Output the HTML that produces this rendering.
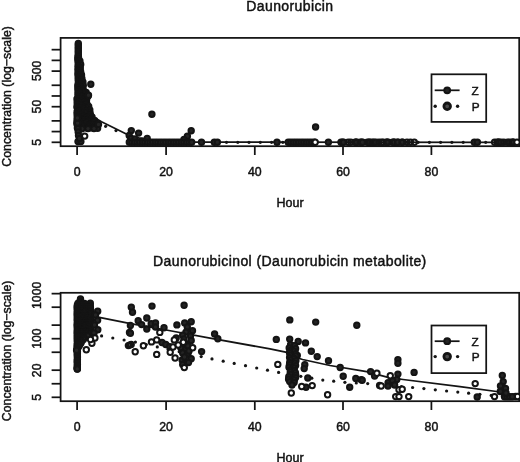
<!DOCTYPE html>
<html><head><meta charset="utf-8"><title>Daunorubicin concentration</title>
<style>
html,body{margin:0;padding:0;background:#fff}
svg{display:block;filter:blur(0.4px);font-family:"Liberation Sans",sans-serif;fill:#111}
text{stroke:#111;stroke-width:0.45px}
.ax{stroke:#141414;stroke-width:1.75;fill:none}
.ln{stroke:#141414;stroke-width:1.75;fill:none}
.d circle, circle{fill:#242424;stroke:#141414;stroke-width:2.0}
circle.o{fill:#fff}
circle.n{fill:none}
circle.s{fill:#141414;stroke:none}
.t12{font-size:12.3px}
.hour{font-size:12.5px}
.lg{font-size:11.8px}
.title{font-size:14px;letter-spacing:0.4px}
.yt{font-size:12.3px}
</style></head><body>
<svg width="520" height="462" viewBox="0 0 520 462">
<rect width="520" height="462" fill="#fff"/>
<rect class="ax" x="60.6" y="37.9" width="458.6" height="108.3"/>
<line class="ax" x1="51.6" x2="60.6" y1="142.30" y2="142.30"/>
<line class="ax" x1="51.6" x2="60.6" y1="131.58" y2="131.58"/>
<line class="ax" x1="51.6" x2="60.6" y1="120.87" y2="120.87"/>
<line class="ax" x1="51.6" x2="60.6" y1="106.70" y2="106.70"/>
<line class="ax" x1="51.6" x2="60.6" y1="95.98" y2="95.98"/>
<line class="ax" x1="51.6" x2="60.6" y1="85.27" y2="85.27"/>
<line class="ax" x1="51.6" x2="60.6" y1="71.10" y2="71.10"/>
<line class="ax" x1="51.6" x2="60.6" y1="60.38" y2="60.38"/>
<line class="ax" x1="51.6" x2="60.6" y1="49.67" y2="49.67"/>
<line class="ax" x1="77.1" x2="77.1" y1="146.2" y2="155.0"/>
<text class="t12" text-anchor="middle" x="77.1" y="175.5">0</text>
<line class="ax" x1="166.1" x2="166.1" y1="146.2" y2="155.0"/>
<text class="t12" text-anchor="middle" x="166.1" y="175.5">20</text>
<line class="ax" x1="254.8" x2="254.8" y1="146.2" y2="155.0"/>
<text class="t12" text-anchor="middle" x="254.8" y="175.5">40</text>
<line class="ax" x1="343.0" x2="343.0" y1="146.2" y2="155.0"/>
<text class="t12" text-anchor="middle" x="343.0" y="175.5">60</text>
<line class="ax" x1="431.4" x2="431.4" y1="146.2" y2="155.0"/>
<text class="t12" text-anchor="middle" x="431.4" y="175.5">80</text>
<text class="t12" text-anchor="middle" transform="translate(41.1,142.3) rotate(-90)">5</text>
<text class="t12" text-anchor="middle" transform="translate(41.1,106.6) rotate(-90)">50</text>
<text class="t12" text-anchor="middle" transform="translate(41.1,70.8) rotate(-90)">500</text>
<text class="hour" text-anchor="middle" x="290" y="207.0">Hour</text>
<text class="title" text-anchor="middle" x="289.9" y="10.7">Daunorubicin</text>
<text class="yt" text-anchor="middle" transform="translate(10.7,96.4) rotate(-90)">Concentration (log−scale)</text>
<g class="d">
<polyline class="ln" points="95,118 101.5,121.7 125.8,133.8 131,136.2 150,140.5 184,142.2 517,142.3"/>
<circle class="s" cx="105.6" cy="126.3" r="1.6"/>
<circle class="s" cx="116.0" cy="130.6" r="1.6"/>
<circle class="s" cx="226.5" cy="142.3" r="1.6"/>
<circle class="s" cx="237.8" cy="142.3" r="1.6"/>
<circle class="s" cx="249.0" cy="142.3" r="1.6"/>
<circle class="s" cx="260.3" cy="142.3" r="1.6"/>
<circle class="s" cx="271.6" cy="142.3" r="1.6"/>
<circle class="s" cx="282.8" cy="142.3" r="1.6"/>
<circle class="s" cx="294.1" cy="142.3" r="1.6"/>
<circle class="s" cx="305.4" cy="142.3" r="1.6"/>
<circle class="s" cx="316.7" cy="142.3" r="1.6"/>
<circle class="s" cx="327.9" cy="142.3" r="1.6"/>
<circle class="s" cx="339.2" cy="142.3" r="1.6"/>
<circle class="s" cx="350.5" cy="142.3" r="1.6"/>
<circle class="s" cx="361.7" cy="142.3" r="1.6"/>
<circle class="s" cx="373.0" cy="142.3" r="1.6"/>
<circle class="s" cx="384.3" cy="142.3" r="1.6"/>
<circle class="s" cx="395.5" cy="142.3" r="1.6"/>
<circle class="s" cx="406.8" cy="142.3" r="1.6"/>
<circle class="s" cx="418.1" cy="142.3" r="1.6"/>
<circle class="s" cx="429.4" cy="142.3" r="1.6"/>
<circle class="s" cx="440.6" cy="142.3" r="1.6"/>
<circle class="s" cx="451.9" cy="142.3" r="1.6"/>
<circle class="s" cx="463.2" cy="142.3" r="1.6"/>
<circle class="s" cx="474.4" cy="142.3" r="1.6"/>
<circle class="s" cx="485.7" cy="142.3" r="1.6"/>
<circle class="s" cx="497.0" cy="142.3" r="1.6"/>
<circle class="s" cx="508.2" cy="142.3" r="1.6"/>
<circle cx="78.3" cy="43.4" r="2.7"/>
<circle cx="78.3" cy="45.1" r="2.7"/>
<circle cx="78.3" cy="46.9" r="2.7"/>
<circle cx="78.3" cy="48.6" r="2.7"/>
<circle cx="78.3" cy="50.4" r="2.7"/>
<circle cx="78.3" cy="52.1" r="2.7"/>
<circle cx="78.3" cy="53.9" r="2.7"/>
<circle cx="78.3" cy="55.6" r="2.7"/>
<circle cx="77.9" cy="57.3" r="2.7"/>
<circle cx="78.5" cy="57.4" r="2.7"/>
<circle cx="78.0" cy="59.1" r="2.7"/>
<circle cx="78.4" cy="59.1" r="2.7"/>
<circle cx="78.0" cy="60.6" r="2.7"/>
<circle cx="79.9" cy="60.9" r="2.7"/>
<circle cx="78.5" cy="62.7" r="2.7"/>
<circle cx="78.3" cy="62.6" r="2.7"/>
<circle cx="78.5" cy="63.9" r="2.7"/>
<circle cx="80.7" cy="64.4" r="2.7"/>
<circle cx="78.1" cy="65.7" r="2.7"/>
<circle cx="78.5" cy="66.2" r="2.7"/>
<circle cx="78.1" cy="68.3" r="2.7"/>
<circle cx="80.3" cy="67.9" r="2.7"/>
<circle cx="78.2" cy="69.8" r="2.7"/>
<circle cx="79.3" cy="69.7" r="2.7"/>
<circle cx="78.2" cy="70.9" r="2.7"/>
<circle cx="80.6" cy="71.4" r="2.7"/>
<circle cx="78.0" cy="73.4" r="2.7"/>
<circle cx="80.6" cy="72.9" r="2.7"/>
<circle cx="80.1" cy="73.2" r="2.7"/>
<circle cx="78.2" cy="74.7" r="2.7"/>
<circle cx="80.8" cy="75.1" r="2.7"/>
<circle cx="81.5" cy="74.9" r="2.7"/>
<circle cx="78.2" cy="76.7" r="2.7"/>
<circle cx="80.8" cy="76.9" r="2.7"/>
<circle cx="80.3" cy="76.7" r="2.7"/>
<circle cx="78.5" cy="77.9" r="2.7"/>
<circle cx="80.6" cy="78.7" r="2.7"/>
<circle cx="81.9" cy="78.4" r="2.7"/>
<circle cx="78.2" cy="79.6" r="2.7"/>
<circle cx="80.7" cy="80.5" r="2.7"/>
<circle cx="81.3" cy="80.2" r="2.7"/>
<circle cx="78.4" cy="81.7" r="2.7"/>
<circle cx="80.7" cy="82.0" r="2.7"/>
<circle cx="82.9" cy="81.9" r="2.7"/>
<circle cx="78.2" cy="84.1" r="2.7"/>
<circle cx="80.9" cy="83.6" r="2.7"/>
<circle cx="81.6" cy="83.7" r="2.7"/>
<circle cx="77.9" cy="85.6" r="2.7"/>
<circle cx="80.7" cy="86.0" r="2.7"/>
<circle cx="83.3" cy="85.4" r="2.7"/>
<circle cx="78.1" cy="87.0" r="2.7"/>
<circle cx="80.7" cy="86.6" r="2.7"/>
<circle cx="81.4" cy="87.2" r="2.7"/>
<circle cx="78.0" cy="88.4" r="2.7"/>
<circle cx="80.3" cy="89.2" r="2.7"/>
<circle cx="82.8" cy="88.9" r="2.7"/>
<circle cx="78.0" cy="90.5" r="2.7"/>
<circle cx="80.8" cy="90.1" r="2.7"/>
<circle cx="83.0" cy="90.7" r="2.7"/>
<circle cx="83.4" cy="90.7" r="2.7"/>
<circle cx="78.4" cy="92.8" r="2.7"/>
<circle cx="80.5" cy="92.3" r="2.7"/>
<circle cx="82.9" cy="92.9" r="2.7"/>
<circle cx="86.2" cy="92.4" r="2.7"/>
<circle cx="78.0" cy="93.8" r="2.7"/>
<circle cx="80.4" cy="93.8" r="2.7"/>
<circle cx="83.0" cy="94.3" r="2.7"/>
<circle cx="85.3" cy="93.6" r="2.7"/>
<circle cx="85.4" cy="94.2" r="2.7"/>
<circle cx="78.1" cy="96.0" r="2.7"/>
<circle cx="80.9" cy="96.1" r="2.7"/>
<circle cx="83.0" cy="96.0" r="2.7"/>
<circle cx="85.5" cy="95.4" r="2.7"/>
<circle cx="88.1" cy="95.9" r="2.7"/>
<circle cx="78.4" cy="98.1" r="2.7"/>
<circle cx="80.8" cy="97.5" r="2.7"/>
<circle cx="82.9" cy="97.2" r="2.7"/>
<circle cx="85.5" cy="97.1" r="2.7"/>
<circle cx="85.3" cy="97.7" r="2.7"/>
<circle cx="77.0" cy="99.0" r="2.7"/>
<circle cx="79.5" cy="98.9" r="2.7"/>
<circle cx="81.7" cy="99.0" r="2.7"/>
<circle cx="84.2" cy="99.2" r="2.7"/>
<circle cx="86.6" cy="99.4" r="2.7"/>
<circle cx="77.4" cy="101.3" r="2.7"/>
<circle cx="79.4" cy="100.9" r="2.7"/>
<circle cx="81.9" cy="101.0" r="2.7"/>
<circle cx="84.2" cy="101.6" r="2.7"/>
<circle cx="86.1" cy="101.2" r="2.7"/>
<circle cx="77.2" cy="102.9" r="2.7"/>
<circle cx="79.4" cy="102.4" r="2.7"/>
<circle cx="81.9" cy="102.6" r="2.7"/>
<circle cx="84.6" cy="102.5" r="2.7"/>
<circle cx="86.6" cy="102.9" r="2.7"/>
<circle cx="77.5" cy="104.7" r="2.7"/>
<circle cx="79.4" cy="104.7" r="2.7"/>
<circle cx="81.7" cy="104.7" r="2.7"/>
<circle cx="84.7" cy="105.1" r="2.7"/>
<circle cx="86.9" cy="104.4" r="2.7"/>
<circle cx="86.1" cy="104.7" r="2.7"/>
<circle cx="77.0" cy="106.7" r="2.7"/>
<circle cx="79.6" cy="106.7" r="2.7"/>
<circle cx="81.9" cy="106.1" r="2.7"/>
<circle cx="84.6" cy="107.0" r="2.7"/>
<circle cx="87.0" cy="106.8" r="2.7"/>
<circle cx="88.7" cy="106.4" r="2.7"/>
<circle cx="77.3" cy="107.8" r="2.7"/>
<circle cx="79.6" cy="108.0" r="2.7"/>
<circle cx="81.7" cy="107.6" r="2.7"/>
<circle cx="84.3" cy="107.9" r="2.7"/>
<circle cx="86.9" cy="108.7" r="2.7"/>
<circle cx="87.3" cy="108.2" r="2.7"/>
<circle cx="77.5" cy="110.5" r="2.7"/>
<circle cx="79.9" cy="109.7" r="2.7"/>
<circle cx="81.8" cy="109.6" r="2.7"/>
<circle cx="84.2" cy="109.5" r="2.7"/>
<circle cx="86.9" cy="110.4" r="2.7"/>
<circle cx="89.8" cy="109.9" r="2.7"/>
<circle cx="77.2" cy="111.8" r="2.7"/>
<circle cx="79.8" cy="111.2" r="2.7"/>
<circle cx="82.1" cy="112.1" r="2.7"/>
<circle cx="84.6" cy="112.0" r="2.7"/>
<circle cx="86.8" cy="111.3" r="2.7"/>
<circle cx="88.9" cy="111.7" r="2.7"/>
<circle cx="77.1" cy="113.8" r="2.7"/>
<circle cx="79.9" cy="113.3" r="2.7"/>
<circle cx="81.9" cy="113.9" r="2.7"/>
<circle cx="84.5" cy="113.0" r="2.7"/>
<circle cx="86.6" cy="113.0" r="2.7"/>
<circle cx="89.4" cy="113.8" r="2.7"/>
<circle cx="90.2" cy="113.4" r="2.7"/>
<circle cx="77.4" cy="115.7" r="2.7"/>
<circle cx="79.7" cy="115.0" r="2.7"/>
<circle cx="82.0" cy="114.7" r="2.7"/>
<circle cx="84.1" cy="115.7" r="2.7"/>
<circle cx="86.9" cy="115.2" r="2.7"/>
<circle cx="89.5" cy="115.1" r="2.7"/>
<circle cx="90.2" cy="115.2" r="2.7"/>
<circle cx="77.4" cy="116.6" r="2.7"/>
<circle cx="79.5" cy="116.7" r="2.7"/>
<circle cx="81.8" cy="117.0" r="2.7"/>
<circle cx="84.3" cy="116.8" r="2.7"/>
<circle cx="86.6" cy="117.4" r="2.7"/>
<circle cx="89.1" cy="116.8" r="2.7"/>
<circle cx="92.0" cy="116.9" r="2.7"/>
<circle cx="77.4" cy="118.6" r="2.7"/>
<circle cx="79.9" cy="118.7" r="2.7"/>
<circle cx="82.0" cy="118.7" r="2.7"/>
<circle cx="84.1" cy="118.6" r="2.7"/>
<circle cx="86.6" cy="118.1" r="2.7"/>
<circle cx="89.4" cy="118.3" r="2.7"/>
<circle cx="91.6" cy="118.9" r="2.7"/>
<circle cx="91.7" cy="118.7" r="2.7"/>
<circle cx="77.1" cy="120.4" r="2.7"/>
<circle cx="79.6" cy="120.7" r="2.7"/>
<circle cx="81.8" cy="120.5" r="2.7"/>
<circle cx="84.2" cy="120.1" r="2.7"/>
<circle cx="87.0" cy="120.4" r="2.7"/>
<circle cx="89.2" cy="120.7" r="2.7"/>
<circle cx="91.8" cy="120.3" r="2.7"/>
<circle cx="94.6" cy="120.4" r="2.7"/>
<circle cx="77.2" cy="122.2" r="2.7"/>
<circle cx="79.7" cy="122.1" r="2.7"/>
<circle cx="82.0" cy="122.1" r="2.7"/>
<circle cx="84.7" cy="122.4" r="2.7"/>
<circle cx="87.0" cy="122.7" r="2.7"/>
<circle cx="89.1" cy="122.2" r="2.7"/>
<circle cx="91.9" cy="122.6" r="2.7"/>
<circle cx="93.8" cy="121.7" r="2.7"/>
<circle cx="94.1" cy="122.2" r="2.7"/>
<circle cx="76.9" cy="123.6" r="2.7"/>
<circle cx="79.3" cy="124.1" r="2.7"/>
<circle cx="82.2" cy="124.4" r="2.7"/>
<circle cx="84.2" cy="124.2" r="2.7"/>
<circle cx="86.9" cy="123.5" r="2.7"/>
<circle cx="89.4" cy="124.5" r="2.7"/>
<circle cx="91.4" cy="124.4" r="2.7"/>
<circle cx="93.9" cy="123.9" r="2.7"/>
<circle cx="97.0" cy="123.9" r="2.7"/>
<circle cx="77.4" cy="125.2" r="2.7"/>
<circle cx="79.6" cy="125.7" r="2.7"/>
<circle cx="81.9" cy="125.3" r="2.7"/>
<circle cx="84.3" cy="125.9" r="2.7"/>
<circle cx="86.5" cy="125.7" r="2.7"/>
<circle cx="89.2" cy="125.1" r="2.7"/>
<circle cx="91.5" cy="125.8" r="2.7"/>
<circle cx="94.0" cy="125.1" r="2.7"/>
<circle cx="96.3" cy="125.7" r="2.7"/>
<circle cx="77.4" cy="128.0" r="2.7"/>
<circle cx="79.4" cy="127.1" r="2.7"/>
<circle cx="81.7" cy="127.7" r="2.7"/>
<circle cx="84.3" cy="127.0" r="2.7"/>
<circle cx="86.8" cy="127.9" r="2.7"/>
<circle cx="89.4" cy="127.1" r="2.7"/>
<circle cx="91.4" cy="127.9" r="2.7"/>
<circle cx="94.0" cy="127.6" r="2.7"/>
<circle cx="96.1" cy="127.4" r="2.7"/>
<circle cx="90.8" cy="84.3" r="2.7"/>
<circle cx="88.5" cy="95.2" r="2.7"/>
<circle cx="97.6" cy="128.3" r="2.7"/>
<circle cx="94.0" cy="128.6" r="2.7"/>
<circle cx="88.0" cy="128.6" r="2.7"/>
<circle cx="82.0" cy="128.8" r="2.7"/>
<circle cx="78.0" cy="128.6" r="2.7"/>
<circle cx="77.6" cy="123.0" r="2.7"/>
<circle cx="77.4" cy="118.0" r="2.7"/>
<circle cx="98.5" cy="124.5" r="2.7"/>
<circle cx="78.2" cy="132.0" r="2.7"/>
<circle cx="78.5" cy="135.5" r="2.7"/>
<circle cx="78.0" cy="141.6" r="2.7"/>
<circle cx="80.9" cy="141.6" r="2.7"/>
<circle cx="79.4" cy="138.5" r="2.7"/>
<circle class="o" cx="84.7" cy="136.1" r="2.7"/>
<circle cx="151.9" cy="114.3" r="2.7"/>
<circle cx="131.3" cy="130.6" r="2.7"/>
<circle cx="138.6" cy="133.1" r="2.7"/>
<circle cx="129.2" cy="135.4" r="2.7"/>
<circle cx="131.0" cy="138.5" r="2.7"/>
<circle cx="135.0" cy="139.0" r="2.7"/>
<circle cx="147.2" cy="138.4" r="2.7"/>
<circle cx="142.0" cy="141.0" r="2.7"/>
<circle cx="191.2" cy="130.8" r="2.7"/>
<circle cx="187.4" cy="136.3" r="2.7"/>
<circle cx="184.0" cy="139.5" r="2.7"/>
<circle cx="315.6" cy="127.0" r="2.7"/>
<circle cx="129.3" cy="142.2" r="2.7"/>
<circle cx="131.9" cy="142.2" r="2.7"/>
<circle cx="134.5" cy="142.2" r="2.7"/>
<circle cx="137.1" cy="142.2" r="2.7"/>
<circle cx="139.7" cy="142.2" r="2.7"/>
<circle cx="142.3" cy="142.2" r="2.7"/>
<circle cx="144.9" cy="142.2" r="2.7"/>
<circle cx="147.5" cy="142.2" r="2.7"/>
<circle cx="150.1" cy="142.2" r="2.7"/>
<circle cx="152.7" cy="142.2" r="2.7"/>
<circle cx="155.3" cy="142.2" r="2.7"/>
<circle cx="157.9" cy="142.2" r="2.7"/>
<circle cx="160.5" cy="142.2" r="2.7"/>
<circle cx="163.1" cy="142.2" r="2.7"/>
<circle cx="165.7" cy="142.2" r="2.7"/>
<circle cx="168.3" cy="142.2" r="2.7"/>
<circle cx="170.9" cy="142.2" r="2.7"/>
<circle cx="173.5" cy="142.2" r="2.7"/>
<circle cx="176.1" cy="142.2" r="2.7"/>
<circle cx="178.7" cy="142.2" r="2.7"/>
<circle cx="181.3" cy="142.2" r="2.7"/>
<circle cx="183.9" cy="142.2" r="2.7"/>
<circle cx="186.5" cy="142.2" r="2.7"/>
<circle cx="189.1" cy="142.2" r="2.7"/>
<circle cx="191.7" cy="142.2" r="2.7"/>
<circle cx="201.5" cy="142.2" r="2.7"/>
<circle cx="214.3" cy="142.2" r="2.7"/>
<circle cx="217.4" cy="142.2" r="2.7"/>
<circle cx="277.0" cy="142.2" r="2.7"/>
<circle cx="288.2" cy="142.2" r="2.7"/>
<circle cx="290.8" cy="142.2" r="2.7"/>
<circle cx="293.4" cy="142.2" r="2.7"/>
<circle cx="296.0" cy="142.2" r="2.7"/>
<circle cx="298.6" cy="142.2" r="2.7"/>
<circle cx="301.2" cy="142.2" r="2.7"/>
<circle cx="303.8" cy="142.2" r="2.7"/>
<circle cx="306.4" cy="142.2" r="2.7"/>
<circle cx="309.0" cy="142.2" r="2.7"/>
<circle cx="311.6" cy="142.2" r="2.7"/>
<circle cx="314.2" cy="142.2" r="2.7"/>
<circle class="o" cx="315.2" cy="142.2" r="2.7"/>
<circle cx="328.4" cy="142.2" r="2.7"/>
<circle class="n" cx="341.0" cy="142.2" r="2.7"/>
<circle class="n" cx="342.6" cy="142.2" r="2.7"/>
<circle cx="343.5" cy="142.2" r="2.7"/>
<circle class="n" cx="348.2" cy="142.2" r="2.7"/>
<circle class="n" cx="350.8" cy="142.2" r="2.7"/>
<circle class="n" cx="355.2" cy="142.2" r="2.7"/>
<circle cx="356.0" cy="142.2" r="2.7"/>
<circle class="n" cx="356.8" cy="142.2" r="2.7"/>
<circle class="n" cx="360.2" cy="142.2" r="2.7"/>
<circle class="n" cx="361.8" cy="142.2" r="2.7"/>
<circle cx="362.5" cy="142.2" r="2.7"/>
<circle class="n" cx="367.4" cy="142.2" r="2.7"/>
<circle class="n" cx="369.0" cy="142.2" r="2.7"/>
<circle cx="370.0" cy="142.2" r="2.7"/>
<circle class="n" cx="372.4" cy="142.2" r="2.7"/>
<circle class="n" cx="374.0" cy="142.2" r="2.7"/>
<circle cx="376.0" cy="142.2" r="2.7"/>
<circle class="n" cx="379.0" cy="142.2" r="2.7"/>
<circle class="n" cx="381.6" cy="142.2" r="2.7"/>
<circle class="n" cx="383.2" cy="142.2" r="2.7"/>
<circle class="n" cx="386.6" cy="142.2" r="2.7"/>
<circle cx="387.0" cy="142.2" r="2.7"/>
<circle class="n" cx="388.2" cy="142.2" r="2.7"/>
<circle class="n" cx="392.6" cy="142.2" r="2.7"/>
<circle cx="394.0" cy="142.2" r="2.7"/>
<circle class="n" cx="394.2" cy="142.2" r="2.7"/>
<circle class="n" cx="397.6" cy="142.2" r="2.7"/>
<circle cx="398.0" cy="142.2" r="2.7"/>
<circle cx="402.0" cy="142.2" r="2.7"/>
<circle class="n" cx="402.6" cy="142.2" r="2.7"/>
<circle class="n" cx="407.0" cy="142.2" r="2.7"/>
<circle class="n" cx="410.4" cy="142.2" r="2.7"/>
<circle class="n" cx="414.3" cy="142.2" r="2.7"/>
<circle cx="474.3" cy="142.2" r="2.7"/>
<circle cx="477.4" cy="142.2" r="2.7"/>
<circle class="n" cx="494.6" cy="142.2" r="2.7"/>
<circle class="n" cx="497.2" cy="142.2" r="2.7"/>
<circle cx="498.5" cy="142.2" r="2.7"/>
<circle class="n" cx="498.8" cy="142.2" r="2.7"/>
<circle cx="501.0" cy="142.2" r="2.7"/>
<circle class="n" cx="503.8" cy="142.2" r="2.7"/>
<circle cx="507.5" cy="142.2" r="2.7"/>
<circle class="n" cx="509.4" cy="142.2" r="2.7"/>
<circle class="n" cx="512.0" cy="142.2" r="2.7"/>
<circle cx="513.0" cy="142.2" r="2.7"/>
<circle class="n" cx="513.5" cy="142.2" r="2.7"/>
<circle class="o" cx="517.0" cy="142.2" r="2.7"/>
</g>
<rect class="ax" x="431.5" y="74.3" width="54.7" height="47.6" fill="#fff"/>
<line class="ln" x1="434.7" x2="459.6" y1="90.3" y2="90.3"/>
<circle cx="447.2" cy="90.3" r="2.9"/>
<circle class="s" cx="435.2" cy="106.3" r="1.7"/>
<circle class="s" cx="457.6" cy="106.3" r="1.7"/>
<circle cx="447.2" cy="106.3" r="3.3" style="fill:#4a4a4a;stroke-width:2.8"/>
<text class="lg" x="471.4" y="94.6">Z</text>
<text class="lg" x="471.8" y="110.6">P</text>
<rect class="ax" x="60.6" y="292.8" width="458.6" height="108.4"/>
<line class="ax" x1="51.6" x2="60.6" y1="397.30" y2="397.30"/>
<line class="ax" x1="51.6" x2="60.6" y1="383.74" y2="383.74"/>
<line class="ax" x1="51.6" x2="60.6" y1="370.18" y2="370.18"/>
<line class="ax" x1="51.6" x2="60.6" y1="352.25" y2="352.25"/>
<line class="ax" x1="51.6" x2="60.6" y1="338.69" y2="338.69"/>
<line class="ax" x1="51.6" x2="60.6" y1="325.13" y2="325.13"/>
<line class="ax" x1="51.6" x2="60.6" y1="307.20" y2="307.20"/>
<line class="ax" x1="51.6" x2="60.6" y1="293.64" y2="293.64"/>
<line class="ax" x1="77.1" x2="77.1" y1="401.2" y2="410.0"/>
<text class="t12" text-anchor="middle" x="77.1" y="430.5">0</text>
<line class="ax" x1="166.1" x2="166.1" y1="401.2" y2="410.0"/>
<text class="t12" text-anchor="middle" x="166.1" y="430.5">20</text>
<line class="ax" x1="254.8" x2="254.8" y1="401.2" y2="410.0"/>
<text class="t12" text-anchor="middle" x="254.8" y="430.5">40</text>
<line class="ax" x1="343.0" x2="343.0" y1="401.2" y2="410.0"/>
<text class="t12" text-anchor="middle" x="343.0" y="430.5">60</text>
<line class="ax" x1="431.4" x2="431.4" y1="401.2" y2="410.0"/>
<text class="t12" text-anchor="middle" x="431.4" y="430.5">80</text>
<text class="t12" text-anchor="middle" transform="translate(41.1,397.3) rotate(-90)">5</text>
<text class="t12" text-anchor="middle" transform="translate(41.1,370.3) rotate(-90)">20</text>
<text class="t12" text-anchor="middle" transform="translate(41.1,338.6) rotate(-90)">100</text>
<text class="t12" text-anchor="middle" transform="translate(41.1,295.3) rotate(-90)">1000</text>
<text class="hour" text-anchor="middle" x="290" y="462.0">Hour</text>
<text class="title" text-anchor="middle" x="289.9" y="265.6">Daunorubicinol (Daunorubicin metabolite)</text>
<text class="yt" text-anchor="middle" transform="translate(10.7,350.9) rotate(-90)">Concentration (log−scale)</text>
<g class="d">
<polyline class="ln" points="95,316.5 99.2,317.3 130.6,323.7 166.2,330 210,338.1 270,348.9 288,352.7 296,357.5 302.6,359.5 330,365.5 366.6,371.6 388,377.4 403,379.5 460,386.7 504,392.5"/>
<circle class="s" cx="101.6" cy="335.9" r="1.6"/>
<circle class="s" cx="112.8" cy="338.0" r="1.6"/>
<circle class="s" cx="124.1" cy="340.0" r="1.6"/>
<circle class="s" cx="135.4" cy="342.1" r="1.6"/>
<circle class="s" cx="146.3" cy="344.5" r="1.6"/>
<circle class="s" cx="157.3" cy="346.9" r="1.6"/>
<circle class="s" cx="168.2" cy="349.3" r="1.6"/>
<circle class="s" cx="179.2" cy="351.7" r="1.6"/>
<circle class="s" cx="190.1" cy="354.1" r="1.6"/>
<circle class="s" cx="201.2" cy="356.6" r="1.6"/>
<circle class="s" cx="212.0" cy="358.9" r="1.6"/>
<circle class="s" cx="223.2" cy="361.2" r="1.6"/>
<circle class="s" cx="234.2" cy="363.4" r="1.6"/>
<circle class="s" cx="245.5" cy="365.7" r="1.6"/>
<circle class="s" cx="256.7" cy="368.0" r="1.6"/>
<circle class="s" cx="267.5" cy="370.2" r="1.6"/>
<circle class="s" cx="278.6" cy="372.4" r="1.6"/>
<circle class="s" cx="289.7" cy="374.4" r="1.6"/>
<circle class="s" cx="300.8" cy="376.3" r="1.6"/>
<circle class="s" cx="311.8" cy="378.2" r="1.6"/>
<circle class="s" cx="322.8" cy="380.1" r="1.6"/>
<circle class="s" cx="333.7" cy="381.2" r="1.6"/>
<circle class="s" cx="344.9" cy="382.3" r="1.6"/>
<circle class="s" cx="356.3" cy="383.0" r="1.6"/>
<circle class="s" cx="367.7" cy="383.6" r="1.6"/>
<circle class="s" cx="378.9" cy="384.6" r="1.6"/>
<circle class="s" cx="390.1" cy="385.5" r="1.6"/>
<circle class="s" cx="401.4" cy="386.5" r="1.6"/>
<circle class="s" cx="412.6" cy="387.5" r="1.6"/>
<circle class="s" cx="423.9" cy="388.6" r="1.6"/>
<circle class="s" cx="435.3" cy="389.8" r="1.6"/>
<circle class="s" cx="446.6" cy="391.0" r="1.6"/>
<circle class="s" cx="457.8" cy="392.1" r="1.6"/>
<circle class="s" cx="468.6" cy="393.2" r="1.6"/>
<circle class="s" cx="479.9" cy="394.3" r="1.6"/>
<circle class="s" cx="491.2" cy="395.4" r="1.6"/>
<circle class="s" cx="502.5" cy="396.5" r="1.6"/>
<circle cx="77.4" cy="305.0" r="2.7"/>
<circle cx="77.2" cy="306.6" r="2.7"/>
<circle cx="77.2" cy="308.2" r="2.7"/>
<circle cx="77.4" cy="309.8" r="2.7"/>
<circle cx="77.3" cy="311.4" r="2.7"/>
<circle cx="77.3" cy="313.0" r="2.7"/>
<circle cx="77.2" cy="314.6" r="2.7"/>
<circle cx="77.3" cy="316.2" r="2.7"/>
<circle cx="77.4" cy="317.8" r="2.7"/>
<circle cx="77.2" cy="319.4" r="2.7"/>
<circle cx="77.4" cy="321.0" r="2.7"/>
<circle cx="77.4" cy="322.6" r="2.7"/>
<circle cx="77.2" cy="324.2" r="2.7"/>
<circle cx="77.2" cy="325.8" r="2.7"/>
<circle cx="77.3" cy="327.4" r="2.7"/>
<circle cx="77.4" cy="329.0" r="2.7"/>
<circle cx="77.3" cy="330.6" r="2.7"/>
<circle cx="77.2" cy="332.2" r="2.7"/>
<circle cx="77.3" cy="333.8" r="2.7"/>
<circle cx="77.3" cy="335.4" r="2.7"/>
<circle cx="77.3" cy="337.0" r="2.7"/>
<circle cx="77.3" cy="338.6" r="2.7"/>
<circle cx="77.3" cy="340.2" r="2.7"/>
<circle cx="77.4" cy="341.8" r="2.7"/>
<circle cx="77.4" cy="343.4" r="2.7"/>
<circle cx="77.2" cy="345.0" r="2.7"/>
<circle cx="77.2" cy="346.6" r="2.7"/>
<circle cx="77.2" cy="348.2" r="2.7"/>
<circle cx="77.2" cy="349.8" r="2.7"/>
<circle cx="77.4" cy="351.4" r="2.7"/>
<circle cx="77.4" cy="353.0" r="2.7"/>
<circle cx="77.2" cy="354.6" r="2.7"/>
<circle cx="77.4" cy="356.2" r="2.7"/>
<circle cx="77.4" cy="357.8" r="2.7"/>
<circle cx="77.4" cy="359.4" r="2.7"/>
<circle cx="77.2" cy="361.0" r="2.7"/>
<circle cx="77.3" cy="362.6" r="2.7"/>
<circle cx="77.4" cy="364.2" r="2.7"/>
<circle cx="77.3" cy="365.8" r="2.7"/>
<circle cx="77.2" cy="367.4" r="2.7"/>
<circle cx="77.3" cy="369.0" r="2.7"/>
<circle class="o" cx="77.3" cy="368.4" r="2.7"/>
<circle cx="77.3" cy="369.0" r="2.7"/>
<circle cx="80.5" cy="298.9" r="2.7"/>
<circle cx="80.2" cy="301.1" r="2.7"/>
<circle cx="79.8" cy="303.3" r="2.7"/>
<circle cx="79.5" cy="305.5" r="2.7"/>
<circle cx="79.1" cy="307.7" r="2.7"/>
<circle cx="78.8" cy="309.9" r="2.7"/>
<circle cx="78.4" cy="312.1" r="2.7"/>
<circle cx="78.0" cy="314.3" r="2.7"/>
<circle cx="90.3" cy="303.3" r="2.7"/>
<circle cx="90.2" cy="305.3" r="2.7"/>
<circle cx="90.4" cy="307.3" r="2.7"/>
<circle cx="89.9" cy="309.3" r="2.7"/>
<circle cx="89.8" cy="311.3" r="2.7"/>
<circle cx="89.0" cy="313.3" r="2.7"/>
<circle cx="78.1" cy="303.3" r="2.7"/>
<circle cx="80.4" cy="303.4" r="2.7"/>
<circle cx="83.0" cy="304.0" r="2.7"/>
<circle cx="84.5" cy="303.5" r="2.7"/>
<circle cx="78.0" cy="305.7" r="2.7"/>
<circle cx="80.5" cy="305.0" r="2.7"/>
<circle cx="83.0" cy="304.9" r="2.7"/>
<circle cx="85.6" cy="305.3" r="2.7"/>
<circle cx="78.4" cy="306.8" r="2.7"/>
<circle cx="80.9" cy="306.7" r="2.7"/>
<circle cx="83.3" cy="306.7" r="2.7"/>
<circle cx="85.6" cy="307.0" r="2.7"/>
<circle cx="87.8" cy="307.2" r="2.7"/>
<circle cx="88.8" cy="307.1" r="2.7"/>
<circle cx="78.6" cy="309.3" r="2.7"/>
<circle cx="80.5" cy="309.3" r="2.7"/>
<circle cx="83.3" cy="309.0" r="2.7"/>
<circle cx="85.7" cy="309.1" r="2.7"/>
<circle cx="87.9" cy="308.7" r="2.7"/>
<circle cx="90.3" cy="308.9" r="2.7"/>
<circle cx="78.1" cy="311.0" r="2.7"/>
<circle cx="80.8" cy="310.7" r="2.7"/>
<circle cx="83.1" cy="310.9" r="2.7"/>
<circle cx="85.5" cy="311.1" r="2.7"/>
<circle cx="88.1" cy="310.8" r="2.7"/>
<circle cx="90.8" cy="310.7" r="2.7"/>
<circle cx="78.0" cy="312.7" r="2.7"/>
<circle cx="80.9" cy="312.7" r="2.7"/>
<circle cx="83.4" cy="312.6" r="2.7"/>
<circle cx="85.3" cy="312.0" r="2.7"/>
<circle cx="88.0" cy="313.0" r="2.7"/>
<circle cx="90.0" cy="312.5" r="2.7"/>
<circle cx="78.3" cy="313.9" r="2.7"/>
<circle cx="80.4" cy="314.3" r="2.7"/>
<circle cx="82.9" cy="314.1" r="2.7"/>
<circle cx="85.5" cy="313.9" r="2.7"/>
<circle cx="88.2" cy="314.7" r="2.7"/>
<circle cx="90.4" cy="314.3" r="2.7"/>
<circle cx="78.3" cy="316.3" r="2.7"/>
<circle cx="80.7" cy="316.4" r="2.7"/>
<circle cx="83.3" cy="315.8" r="2.7"/>
<circle cx="85.7" cy="315.8" r="2.7"/>
<circle cx="88.0" cy="316.1" r="2.7"/>
<circle cx="90.6" cy="316.1" r="2.7"/>
<circle cx="78.0" cy="318.3" r="2.7"/>
<circle cx="80.6" cy="317.4" r="2.7"/>
<circle cx="83.2" cy="317.6" r="2.7"/>
<circle cx="85.6" cy="317.7" r="2.7"/>
<circle cx="88.0" cy="318.1" r="2.7"/>
<circle cx="90.7" cy="317.9" r="2.7"/>
<circle cx="78.1" cy="319.7" r="2.7"/>
<circle cx="80.7" cy="320.2" r="2.7"/>
<circle cx="82.9" cy="319.4" r="2.7"/>
<circle cx="85.5" cy="319.9" r="2.7"/>
<circle cx="87.8" cy="319.7" r="2.7"/>
<circle cx="90.5" cy="319.7" r="2.7"/>
<circle cx="78.6" cy="321.5" r="2.7"/>
<circle cx="80.6" cy="321.1" r="2.7"/>
<circle cx="83.1" cy="321.3" r="2.7"/>
<circle cx="85.2" cy="321.5" r="2.7"/>
<circle cx="88.2" cy="322.0" r="2.7"/>
<circle cx="90.6" cy="321.5" r="2.7"/>
<circle cx="78.5" cy="323.7" r="2.7"/>
<circle cx="80.4" cy="322.9" r="2.7"/>
<circle cx="83.2" cy="323.1" r="2.7"/>
<circle cx="85.4" cy="323.4" r="2.7"/>
<circle cx="88.0" cy="323.1" r="2.7"/>
<circle cx="89.6" cy="323.3" r="2.7"/>
<circle cx="78.2" cy="325.1" r="2.7"/>
<circle cx="80.9" cy="325.0" r="2.7"/>
<circle cx="82.9" cy="325.5" r="2.7"/>
<circle cx="85.6" cy="325.0" r="2.7"/>
<circle cx="88.0" cy="325.0" r="2.7"/>
<circle cx="90.6" cy="325.1" r="2.7"/>
<circle cx="78.1" cy="326.7" r="2.7"/>
<circle cx="80.6" cy="326.7" r="2.7"/>
<circle cx="83.0" cy="327.3" r="2.7"/>
<circle cx="85.3" cy="326.4" r="2.7"/>
<circle cx="88.0" cy="326.7" r="2.7"/>
<circle cx="89.5" cy="326.9" r="2.7"/>
<circle cx="78.2" cy="329.1" r="2.7"/>
<circle cx="80.4" cy="329.1" r="2.7"/>
<circle cx="83.3" cy="329.1" r="2.7"/>
<circle cx="85.4" cy="328.3" r="2.7"/>
<circle cx="88.0" cy="328.8" r="2.7"/>
<circle cx="90.4" cy="328.7" r="2.7"/>
<circle cx="78.6" cy="330.4" r="2.7"/>
<circle cx="80.6" cy="330.8" r="2.7"/>
<circle cx="83.3" cy="330.4" r="2.7"/>
<circle cx="85.2" cy="330.8" r="2.7"/>
<circle cx="87.8" cy="330.9" r="2.7"/>
<circle cx="90.2" cy="330.5" r="2.7"/>
<circle cx="78.1" cy="331.9" r="2.7"/>
<circle cx="81.0" cy="332.2" r="2.7"/>
<circle cx="83.2" cy="331.9" r="2.7"/>
<circle cx="85.7" cy="332.3" r="2.7"/>
<circle cx="88.1" cy="332.4" r="2.7"/>
<circle cx="90.5" cy="332.3" r="2.7"/>
<circle cx="78.2" cy="333.9" r="2.7"/>
<circle cx="80.6" cy="334.3" r="2.7"/>
<circle cx="83.2" cy="334.0" r="2.7"/>
<circle cx="85.3" cy="334.1" r="2.7"/>
<circle cx="88.0" cy="333.7" r="2.7"/>
<circle cx="90.2" cy="334.1" r="2.7"/>
<circle cx="78.0" cy="335.9" r="2.7"/>
<circle cx="80.9" cy="336.0" r="2.7"/>
<circle cx="83.1" cy="335.7" r="2.7"/>
<circle cx="85.7" cy="335.8" r="2.7"/>
<circle cx="87.8" cy="335.9" r="2.7"/>
<circle cx="78.1" cy="337.4" r="2.7"/>
<circle cx="80.7" cy="337.5" r="2.7"/>
<circle cx="83.0" cy="338.0" r="2.7"/>
<circle cx="84.2" cy="337.7" r="2.7"/>
<circle cx="78.0" cy="339.9" r="2.7"/>
<circle cx="80.6" cy="339.7" r="2.7"/>
<circle cx="83.4" cy="339.5" r="2.7"/>
<circle cx="78.2" cy="341.6" r="2.7"/>
<circle cx="80.7" cy="341.4" r="2.7"/>
<circle cx="81.5" cy="341.3" r="2.7"/>
<circle cx="78.4" cy="343.1" r="2.7"/>
<circle cx="81.0" cy="343.1" r="2.7"/>
<circle cx="78.5" cy="344.5" r="2.7"/>
<circle cx="79.7" cy="344.9" r="2.7"/>
<circle cx="78.6" cy="346.7" r="2.7"/>
<circle cx="77.5" cy="348.5" r="2.7"/>
<circle cx="76.6" cy="350.3" r="2.7"/>
<circle cx="97.7" cy="311.3" r="2.7"/>
<circle cx="95.5" cy="315.0" r="2.7"/>
<circle cx="97.6" cy="320.3" r="2.7"/>
<circle cx="94.5" cy="325.0" r="2.7"/>
<circle cx="97.8" cy="329.8" r="2.7"/>
<circle cx="94.0" cy="333.0" r="2.7"/>
<circle class="o" cx="94.9" cy="338.0" r="2.7"/>
<circle class="o" cx="91.9" cy="343.3" r="2.7"/>
<circle class="o" cx="86.3" cy="349.7" r="2.7"/>
<circle class="o" cx="90.5" cy="339.5" r="2.7"/>
<circle cx="131.3" cy="307.3" r="2.7"/>
<circle cx="132.5" cy="312.2" r="2.7"/>
<circle cx="152.0" cy="306.1" r="2.7"/>
<circle cx="184.1" cy="305.2" r="2.7"/>
<circle cx="138.2" cy="320.8" r="2.7"/>
<circle cx="146.8" cy="318.0" r="2.7"/>
<circle cx="130.4" cy="325.5" r="2.7"/>
<circle cx="129.5" cy="332.4" r="2.7"/>
<circle cx="141.6" cy="324.6" r="2.7"/>
<circle cx="146.8" cy="329.0" r="2.7"/>
<circle cx="151.2" cy="323.8" r="2.7"/>
<circle cx="155.5" cy="322.9" r="2.7"/>
<circle cx="155.5" cy="327.0" r="2.7"/>
<circle cx="164.0" cy="327.8" r="2.7"/>
<circle cx="130.4" cy="333.2" r="2.7"/>
<circle cx="176.9" cy="324.9" r="2.7"/>
<circle cx="184.7" cy="323.0" r="2.7"/>
<circle cx="191.2" cy="321.7" r="2.7"/>
<circle cx="187.3" cy="326.9" r="2.7"/>
<circle cx="192.5" cy="330.8" r="2.7"/>
<circle cx="186.0" cy="332.1" r="2.7"/>
<circle cx="182.7" cy="335.3" r="2.7"/>
<circle cx="190.5" cy="336.0" r="2.7"/>
<circle cx="176.2" cy="337.9" r="2.7"/>
<circle cx="191.2" cy="340.5" r="2.7"/>
<circle cx="186.0" cy="343.8" r="2.7"/>
<circle cx="180.8" cy="347.7" r="2.7"/>
<circle cx="186.0" cy="349.0" r="2.7"/>
<circle cx="182.7" cy="352.9" r="2.7"/>
<circle cx="187.3" cy="354.2" r="2.7"/>
<circle cx="191.2" cy="358.7" r="2.7"/>
<circle cx="182.1" cy="360.0" r="2.7"/>
<circle cx="186.0" cy="362.0" r="2.7"/>
<circle cx="182.7" cy="364.5" r="2.7"/>
<circle cx="201.6" cy="351.6" r="2.7"/>
<circle cx="214.6" cy="334.0" r="2.7"/>
<circle cx="217.8" cy="338.8" r="2.7"/>
<circle cx="162.0" cy="342.5" r="2.7"/>
<circle cx="165.8" cy="344.5" r="2.7"/>
<circle cx="169.7" cy="346.6" r="2.7"/>
<circle cx="188.0" cy="346.0" r="2.7"/>
<circle cx="184.0" cy="339.0" r="2.7"/>
<circle cx="189.0" cy="351.0" r="2.7"/>
<circle cx="184.5" cy="357.0" r="2.7"/>
<circle cx="188.5" cy="362.5" r="2.7"/>
<circle cx="289.8" cy="319.9" r="2.7"/>
<circle cx="276.3" cy="339.4" r="2.7"/>
<circle cx="289.7" cy="339.1" r="2.7"/>
<circle cx="298.2" cy="341.5" r="2.7"/>
<circle cx="305.5" cy="342.9" r="2.7"/>
<circle cx="290.6" cy="344.6" r="2.7"/>
<circle cx="294.4" cy="345.6" r="2.7"/>
<circle cx="311.3" cy="351.2" r="2.7"/>
<circle cx="317.2" cy="356.6" r="2.7"/>
<circle cx="328.5" cy="360.8" r="2.7"/>
<circle cx="297.3" cy="355.5" r="2.7"/>
<circle cx="304.8" cy="364.8" r="2.7"/>
<circle cx="304.2" cy="368.6" r="2.7"/>
<circle cx="307.8" cy="378.0" r="2.7"/>
<circle cx="306.0" cy="387.3" r="2.7"/>
<circle cx="315.7" cy="322.1" r="2.7"/>
<circle cx="356.8" cy="325.3" r="2.7"/>
<circle cx="340.2" cy="367.5" r="2.7"/>
<circle cx="343.2" cy="376.2" r="2.7"/>
<circle cx="349.7" cy="387.2" r="2.7"/>
<circle cx="355.8" cy="378.4" r="2.7"/>
<circle cx="361.2" cy="379.7" r="2.7"/>
<circle cx="370.6" cy="371.6" r="2.7"/>
<circle cx="374.6" cy="376.0" r="2.7"/>
<circle cx="379.6" cy="385.5" r="2.7"/>
<circle cx="362.2" cy="380.2" r="2.7"/>
<circle cx="397.9" cy="359.6" r="2.7"/>
<circle cx="397.9" cy="363.3" r="2.7"/>
<circle cx="414.1" cy="372.4" r="2.7"/>
<circle cx="397.9" cy="374.1" r="2.7"/>
<circle cx="396.8" cy="379.5" r="2.7"/>
<circle cx="388.1" cy="382.8" r="2.7"/>
<circle cx="392.5" cy="380.6" r="2.7"/>
<circle cx="388.0" cy="386.0" r="2.7"/>
<circle cx="394.6" cy="385.0" r="2.7"/>
<circle cx="502.3" cy="375.5" r="2.7"/>
<circle cx="503.2" cy="381.6" r="2.7"/>
<circle cx="502.3" cy="386.8" r="2.7"/>
<circle cx="503.2" cy="392.0" r="2.7"/>
<circle cx="477.2" cy="397.0" r="2.7"/>
<circle cx="289.2" cy="348.0" r="2.7"/>
<circle cx="295.6" cy="348.8" r="2.7"/>
<circle cx="290.5" cy="350.4" r="2.7"/>
<circle cx="294.3" cy="351.2" r="2.7"/>
<circle cx="289.5" cy="352.8" r="2.7"/>
<circle cx="295.5" cy="353.6" r="2.7"/>
<circle cx="290.2" cy="355.2" r="2.7"/>
<circle cx="295.9" cy="356.0" r="2.7"/>
<circle cx="289.6" cy="357.6" r="2.7"/>
<circle cx="294.1" cy="358.4" r="2.7"/>
<circle cx="290.5" cy="360.0" r="2.7"/>
<circle cx="295.9" cy="360.8" r="2.7"/>
<circle cx="289.7" cy="362.4" r="2.7"/>
<circle cx="294.9" cy="363.2" r="2.7"/>
<circle cx="289.5" cy="364.8" r="2.7"/>
<circle cx="295.6" cy="365.6" r="2.7"/>
<circle cx="289.0" cy="367.2" r="2.7"/>
<circle cx="294.3" cy="368.0" r="2.7"/>
<circle cx="290.5" cy="369.6" r="2.7"/>
<circle cx="294.2" cy="370.4" r="2.7"/>
<circle cx="290.3" cy="372.0" r="2.7"/>
<circle cx="295.4" cy="372.8" r="2.7"/>
<circle cx="290.3" cy="374.4" r="2.7"/>
<circle cx="295.8" cy="375.2" r="2.7"/>
<circle cx="288.8" cy="376.8" r="2.7"/>
<circle cx="295.6" cy="377.6" r="2.7"/>
<circle cx="288.6" cy="379.2" r="2.7"/>
<circle cx="294.3" cy="380.0" r="2.7"/>
<circle cx="289.7" cy="381.6" r="2.7"/>
<circle cx="294.1" cy="382.4" r="2.7"/>
<circle cx="292.0" cy="385.0" r="2.7"/>
<circle class="o" cx="159.8" cy="332.4" r="2.7"/>
<circle class="o" cx="156.7" cy="339.9" r="2.7"/>
<circle class="o" cx="151.5" cy="341.9" r="2.7"/>
<circle class="o" cx="143.4" cy="345.8" r="2.7"/>
<circle class="o" cx="135.2" cy="351.8" r="2.7"/>
<circle class="o" cx="129.6" cy="345.1" r="2.7"/>
<circle class="o" cx="156.7" cy="354.4" r="2.7"/>
<circle class="o" cx="170.2" cy="352.3" r="2.7"/>
<circle class="o" cx="175.1" cy="358.0" r="2.7"/>
<circle class="o" cx="184.3" cy="367.6" r="2.7"/>
<circle class="o" cx="192.7" cy="347.8" r="2.7"/>
<circle class="o" cx="183.3" cy="342.3" r="2.7"/>
<circle class="o" cx="174.3" cy="339.9" r="2.7"/>
<circle class="o" cx="173.0" cy="347.0" r="2.7"/>
<circle class="o" cx="178.2" cy="345.0" r="2.7"/>
<circle class="o" cx="277.8" cy="364.4" r="2.7"/>
<circle class="o" cx="291.3" cy="393.0" r="2.7"/>
<circle class="o" cx="301.7" cy="386.5" r="2.7"/>
<circle class="o" cx="312.2" cy="385.6" r="2.7"/>
<circle class="o" cx="327.6" cy="394.8" r="2.7"/>
<circle class="o" cx="376.9" cy="373.2" r="2.7"/>
<circle class="o" cx="390.3" cy="375.8" r="2.7"/>
<circle class="o" cx="381.2" cy="386.0" r="2.7"/>
<circle class="o" cx="399.0" cy="389.7" r="2.7"/>
<circle class="o" cx="402.2" cy="389.3" r="2.7"/>
<circle class="o" cx="395.7" cy="396.6" r="2.7"/>
<circle class="o" cx="399.0" cy="396.6" r="2.7"/>
<circle class="o" cx="408.7" cy="396.6" r="2.7"/>
<circle class="o" cx="475.2" cy="383.6" r="2.7"/>
<circle class="o" cx="494.5" cy="396.6" r="2.7"/>
<circle class="o" cx="515.5" cy="396.5" r="2.7"/>
<circle class="o" cx="517.5" cy="396.5" r="2.7"/>
<circle cx="504.5" cy="396.8" r="2.7"/>
<circle cx="507.1" cy="396.8" r="2.7"/>
<circle cx="509.7" cy="396.8" r="2.7"/>
<circle cx="512.3" cy="396.8" r="2.7"/>
<circle cx="500.5" cy="386.0" r="2.7"/>
<circle cx="505.5" cy="388.5" r="2.7"/>
<circle cx="500.3" cy="391.5" r="2.7"/>
<circle cx="506.0" cy="393.0" r="2.7"/>
<circle class="n" cx="128.4" cy="345.6" r="2.7"/><circle class="n" cx="131.2" cy="344.4" r="2.7"/>
</g>
<rect class="ax" x="431.5" y="325.5" width="54.7" height="47.6" fill="#fff"/>
<line class="ln" x1="434.7" x2="459.6" y1="341.2" y2="341.2"/>
<circle cx="447.2" cy="341.2" r="2.9"/>
<circle class="s" cx="435.2" cy="356.6" r="1.7"/>
<circle class="s" cx="457.6" cy="356.6" r="1.7"/>
<circle cx="447.2" cy="356.6" r="3.3" style="fill:#4a4a4a;stroke-width:2.8"/>
<text class="lg" x="471.4" y="345.5">Z</text>
<text class="lg" x="471.8" y="360.9">P</text>
</svg>
</body></html>
